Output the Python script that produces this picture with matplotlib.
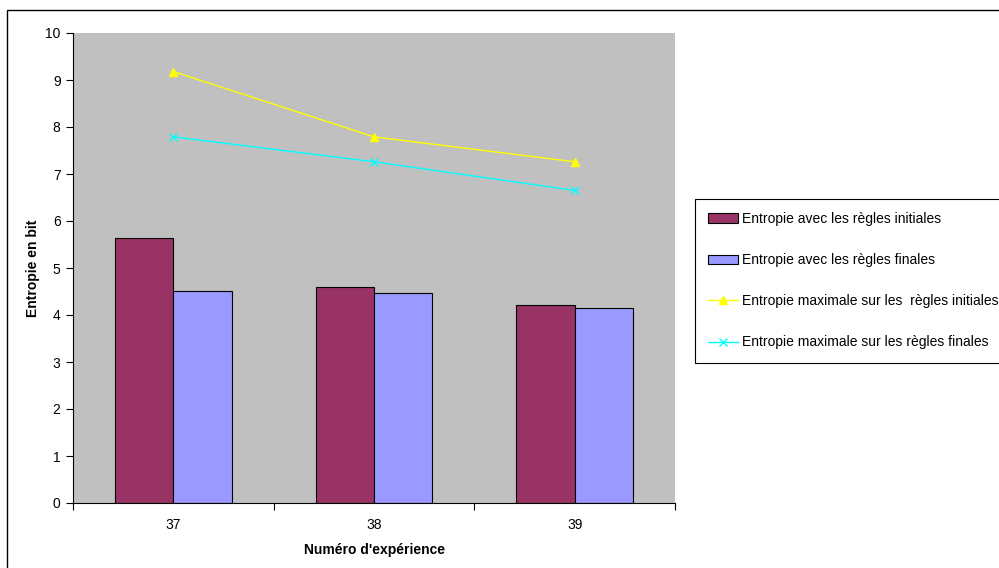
import matplotlib.pyplot as plt
import numpy as np
from matplotlib.patches import Rectangle

plt.rcParams["font.family"] = ["Liberation Sans", "DejaVu Sans"]
plt.rcParams["font.size"] = 10

categories = ["37", "38", "39"]
init_rules = [5.64, 4.60, 4.21]
final_rules = [4.52, 4.47, 4.14]
max_init = [9.18, 7.79, 7.26]
max_final = [7.79, 7.26, 6.65]

labels = [
    "Entropie avec les règles initiales",
    "Entropie avec les règles finales",
    "Entropie maximale sur les  règles initiales",
    "Entropie maximale sur les règles finales",
]

W, H = 999, 568
fig = plt.figure(figsize=(W / 100, H / 100), dpi=100)
ax = fig.add_axes([73 / W, (H - 503) / H, (675 - 73) / W, (503 - 33) / H])
ax.set_facecolor("#C0C0C0")

x = np.arange(len(categories))
bw = 0.29
b1 = ax.bar(x - bw / 2, init_rules, bw, color="#993366", edgecolor="black", linewidth=0.8, label=labels[0])
b2 = ax.bar(x + bw / 2, final_rules, bw, color="#9999FF", edgecolor="black", linewidth=0.8, label=labels[1])
l1, = ax.plot(x, max_init, color="#FFFF00", marker="^", markersize=6, linewidth=1, label=labels[2])
l2, = ax.plot(x, max_final, color="#00FFFF", marker="x", markersize=6, linewidth=1, label=labels[3])

ax.set_xlim(-0.5, 2.5)
ax.set_ylim(0, 10)
ax.set_yticks(range(0, 11))
ax.set_xticks([-0.5, 0.5, 1.5, 2.5])
ax.set_xticklabels([])
ax.set_xticks(x, minor=True)
ax.set_xticklabels(categories, minor=True)
ax.tick_params(axis="x", which="minor", length=0, pad=11)
ax.tick_params(axis="both", which="major", direction="out", length=5, width=0.8)
ax.tick_params(axis="y", pad=4)
for s in ["top", "right"]:
    ax.spines[s].set_visible(False)

ax.set_xlabel("Numéro d'expérience", fontweight="bold", labelpad=8)
ax.set_ylabel("Entropie en bit", fontweight="bold", labelpad=4)

leg = fig.legend(handles=[b1, b2, l1, l2], loc="upper left",
                 bbox_to_anchor=(695 / W, 1 - 199 / H), frameon=True,
                 fancybox=False, edgecolor="black", framealpha=1,
                 labelspacing=1.95, handlelength=2.15, handletextpad=0.3,
                 borderpad=0.95, borderaxespad=0)
leg.get_frame().set_linewidth(0.8)

fig.patches.append(Rectangle((7 / W, -0.05), 1.0, 1 - 10 / H + 0.05,
                             transform=fig.transFigure, fill=False,
                             edgecolor="black", linewidth=1))

fig.savefig("out.png", dpi=100)
